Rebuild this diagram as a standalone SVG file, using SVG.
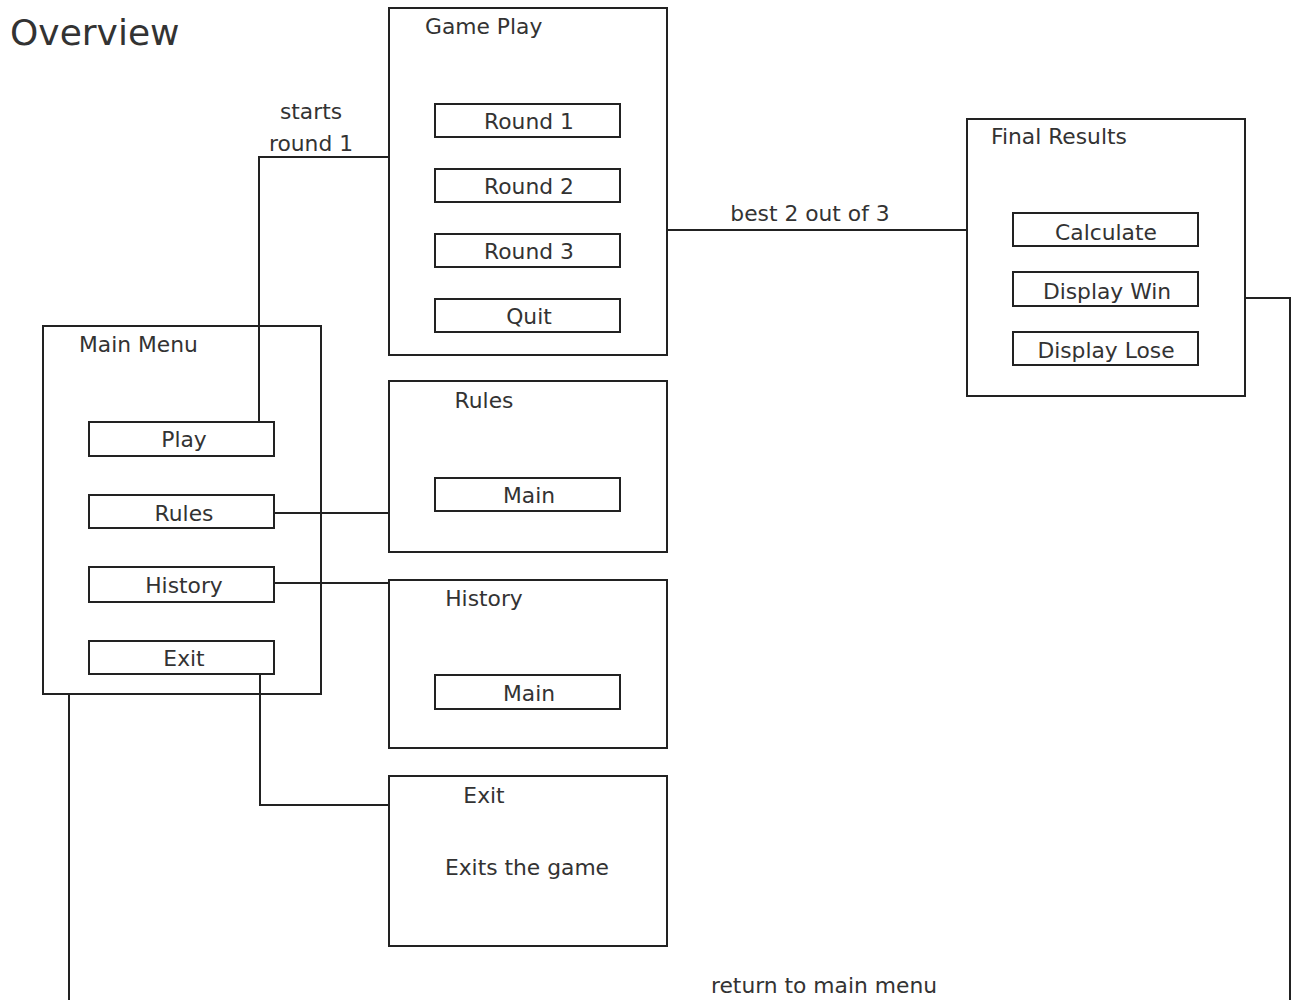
<svg xmlns="http://www.w3.org/2000/svg" width="1293" height="1000" viewBox="0 0 1293 1000">
  <style>
    text { font-family: "DejaVu Sans", Verdana, sans-serif; font-size: 21.8px; fill: #333; }
    .title { font-size: 36px; }
    .c { text-anchor: middle; }
    .box { fill: none; stroke: #222; stroke-width: 2; }
    .conn { fill: none; stroke: #222; stroke-width: 2; }
  </style>
  <rect width="1293" height="1000" fill="#fff"/>

  <text class="title" x="10" y="45">Overview</text>

  <!-- connectors -->
  <g id="connectors">
    <polyline class="conn" points="389,157 259,157 259,422"/>
    <line class="conn" x1="667" y1="230" x2="967" y2="230"/>
    <polyline class="conn" points="1245,298 1290,298 1290,1000"/>
    <line class="conn" x1="274" y1="513" x2="389" y2="513"/>
    <line class="conn" x1="274" y1="583" x2="389" y2="583"/>
    <polyline class="conn" points="260,673 260,805 389,805"/>
    <line class="conn" x1="69" y1="694" x2="69" y2="1000"/>
    <text class="c" x="311" y="119">starts</text>
    <text class="c" x="311" y="151">round 1</text>
    <text class="c" x="810" y="221">best 2 out of 3</text>
    <text class="c" x="824" y="993">return to main menu</text>
  </g>

  <!-- Game Play screen -->
  <g id="game-play">
    <rect class="box" x="389" y="8" width="278" height="347"/>
    <text x="425" y="34">Game Play</text>
    <rect class="box" x="435" y="104" width="185" height="33"/>
    <text class="c" x="529" y="129">Round 1</text>
    <rect class="box" x="435" y="169" width="185" height="33"/>
    <text class="c" x="529" y="194">Round 2</text>
    <rect class="box" x="435" y="234" width="185" height="33"/>
    <text class="c" x="529" y="259">Round 3</text>
    <rect class="box" x="435" y="299" width="185" height="33"/>
    <text class="c" x="529" y="324">Quit</text>
  </g>

  <!-- Final Results screen -->
  <g id="final-results">
    <rect class="box" x="967" y="119" width="278" height="277"/>
    <text x="991" y="144">Final Results</text>
    <rect class="box" x="1013" y="213" width="185" height="33"/>
    <text class="c" x="1106" y="240">Calculate</text>
    <rect class="box" x="1013" y="272" width="185" height="34"/>
    <text class="c" x="1107" y="299">Display Win</text>
    <rect class="box" x="1013" y="332" width="185" height="33"/>
    <text class="c" x="1106" y="358">Display Lose</text>
  </g>

  <!-- Main Menu screen -->
  <g id="main-menu">
    <rect class="box" x="43" y="326" width="278" height="368"/>
    <text x="79" y="352">Main Menu</text>
    <rect class="box" x="89" y="422" width="185" height="34"/>
    <text class="c" x="184" y="447">Play</text>
    <rect class="box" x="89" y="495" width="185" height="33"/>
    <text class="c" x="184" y="521">Rules</text>
    <rect class="box" x="89" y="567" width="185" height="35"/>
    <text class="c" x="184" y="593">History</text>
    <rect class="box" x="89" y="641" width="185" height="33"/>
    <text class="c" x="184" y="666">Exit</text>
  </g>

  <!-- Rules screen -->
  <g id="rules">
    <rect class="box" x="389" y="381" width="278" height="171"/>
    <text class="c" x="484" y="408">Rules</text>
    <rect class="box" x="435" y="478" width="185" height="33"/>
    <text class="c" x="529" y="503">Main</text>
  </g>

  <!-- History screen -->
  <g id="history">
    <rect class="box" x="389" y="580" width="278" height="168"/>
    <text class="c" x="484" y="606">History</text>
    <rect class="box" x="435" y="675" width="185" height="34"/>
    <text class="c" x="529" y="701">Main</text>
  </g>

  <!-- Exit screen -->
  <g id="exit">
    <rect class="box" x="389" y="776" width="278" height="170"/>
    <text class="c" x="484" y="803">Exit</text>
    <text class="c" x="527" y="875">Exits the game</text>
  </g>
</svg>
